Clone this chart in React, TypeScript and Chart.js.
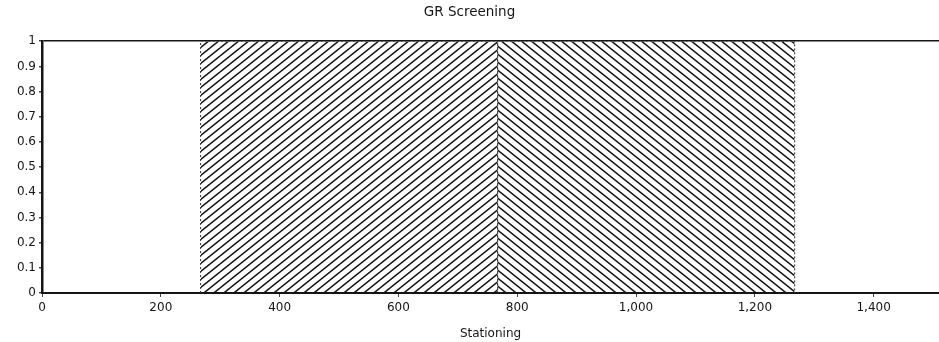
import React, { useEffect, useRef } from "react";
import { Chart, registerables } from "chart.js";

Chart.register(...registerables);

// Screening zones along the alignment (stationing) and their score
const zoneStart = [267, 767];
const zoneEnd = [767, 1267];
const zoneScore = [1, 1];
const zoneHatch: ("up" | "down")[] = ["up", "down"];

const xTickStep = 200;
const xMax = 1510;
const yTickStep = 0.1;

const INK = "#151515";

function makeHatch(dir: "up" | "down"): CanvasPattern | string {
  const w = 10;
  const h = 8;
  const c = document.createElement("canvas");
  c.width = w;
  c.height = h;
  const g = c.getContext("2d");
  if (!g) return INK;
  g.strokeStyle = INK;
  g.lineWidth = 1.5;
  g.lineCap = "square";
  const seg = (x0: number, y0: number, x1: number, y1: number) => {
    g.beginPath();
    g.moveTo(x0, y0);
    g.lineTo(x1, y1);
    g.stroke();
  };
  for (const dx of [-w, 0, w]) {
    if (dir === "up") seg(dx, h, dx + w, 0);
    else seg(dx, 0, dx + w, h);
  }
  const p = g.createPattern(c, "repeat");
  return p || INK;
}

export default function App() {
  const ref = useRef<HTMLCanvasElement | null>(null);

  useEffect(() => {
    if (!ref.current) return;
    const datasets = zoneStart.map((s, i) => ({
      label: `Zone ${i + 1}`,
      data: [
        { x: s, y: 0 },
        { x: s, y: zoneScore[i] },
        { x: zoneEnd[i], y: zoneScore[i] },
        { x: zoneEnd[i], y: 0 },
      ],
      showLine: true,
      fill: "origin",
      backgroundColor: makeHatch(zoneHatch[i]),
      borderColor: "#333",
      borderWidth: 1,
      borderDash: [2, 2],
      pointRadius: 0,
      tension: 0,
    }));

    const tickFont = { family: "'DejaVu Sans', sans-serif", size: 12 };

    const chart = new Chart(ref.current, {
      type: "scatter",
      data: { datasets: datasets as any },
      options: {
        animation: false,
        responsive: false,
        layout: { padding: { left: 0, right: 0, top: 0, bottom: 0 } },
        plugins: {
          legend: { display: false },
          tooltip: { enabled: false },
          title: {
            display: true,
            text: "GR Screening",
            color: INK,
            font: { ...tickFont, size: 13.5, weight: "normal" },
            padding: { top: 4, bottom: 21 },
          },
        },
        scales: {
          x: {
            type: "linear",
            min: 0,
            max: xMax,
            afterFit: (s: any) => {
              s.height = 49;
            },
            ticks: {
              stepSize: xTickStep,
              includeBounds: false,
              color: INK,
              font: tickFont,
              padding: 4,
              maxRotation: 0,
            },
            grid: {
              drawOnChartArea: false,
              drawTicks: true,
              tickLength: 4,
              tickColor: "#444",
            },
            border: { display: true, color: INK, width: 2 },
            title: {
              display: true,
              text: "Stationing",
              color: INK,
              font: tickFont,
              padding: { top: 1, bottom: 1 },
            },
          },
          y: {
            type: "linear",
            min: 0,
            max: 1,
            afterFit: (s: any) => {
              s.width = 42;
            },
            ticks: {
              stepSize: yTickStep,
              color: INK,
              font: tickFont,
              padding: 3,
              callback: (v: any) => String(Math.round(Number(v) * 10) / 10),
            },
            grid: {
              drawOnChartArea: true,
              drawTicks: true,
              tickLength: 3,
              tickColor: "#444",
              lineWidth: 1.5,
              color: (ctx: any) =>
                ctx.tick && ctx.tick.value === 1 ? INK : "rgba(0,0,0,0)",
            },
            border: { display: true, color: INK, width: 2.5 },
          },
        },
      },
    });

    return () => chart.destroy();
  }, []);

  return (
    <div style={{ position: "fixed", left: 0, top: 0, background: "#fff" }}>
      <canvas ref={ref} width={939} height={342} />
    </div>
  );
}
